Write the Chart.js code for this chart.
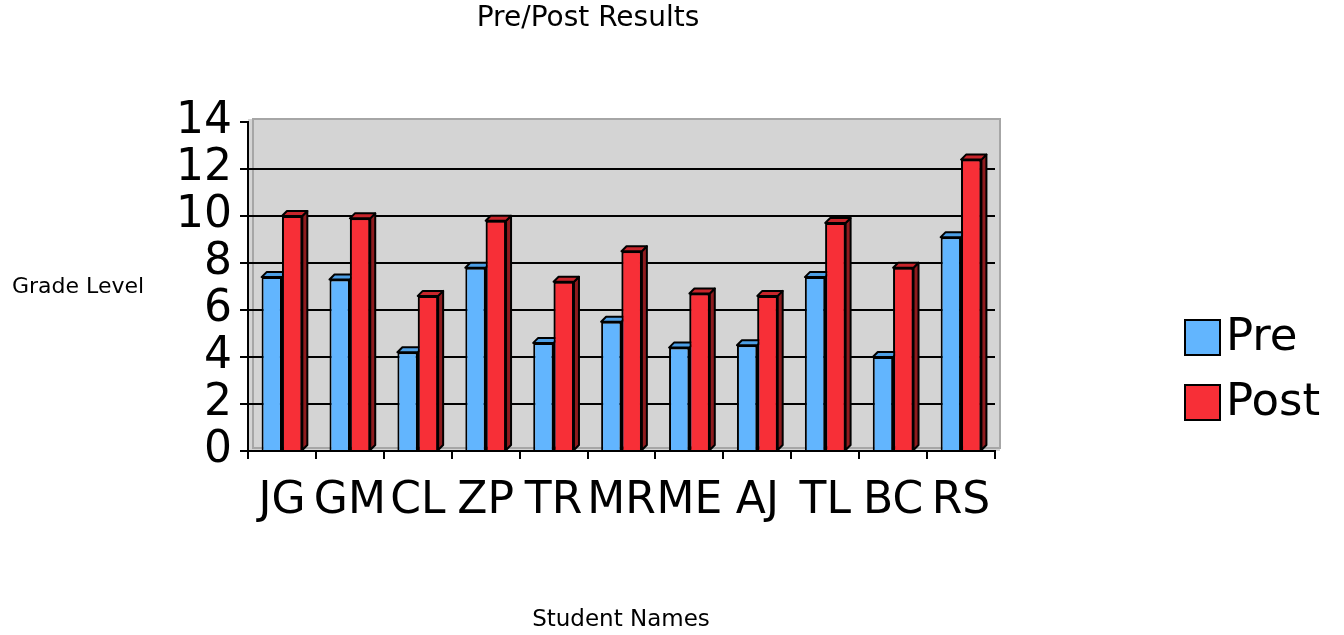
<!DOCTYPE html>
<html>
<head>
<meta charset="utf-8">
<script src="https://cdn.jsdelivr.net/npm/chart.js@4"></script>
<style>
  html, body { margin: 0; padding: 0; background: #fff; }
  #wrap { width: 1344px; height: 635px; }
</style>
</head>
<body>
<div id="wrap"><canvas id="grade-chart" width="1344" height="635"></canvas></div>
<script>
// values
const students = ['JG', 'GM', 'CL', 'ZP', 'TR', 'MR', 'ME', 'AJ', 'TL', 'BC', 'RS'];
const preScores = [7.4, 7.3, 4.2, 7.8, 4.6, 5.5, 4.4, 4.5, 7.4, 4.0, 9.1];
const postScores = [10.0, 9.9, 6.6, 9.8, 7.2, 8.5, 6.7, 6.6, 9.7, 7.8, 12.4];
const yTicks = [0, 2, 4, 6, 8, 10, 12, 14];

const FONT = '"DejaVu Sans", "Liberation Sans", sans-serif';
const DEPTH = 5;

// gray back wall behind the bars
const wallPlugin = {
  id: 'wall',
  beforeDraw(chart) {
    const { ctx, chartArea: a } = chart;
    ctx.save();
    ctx.fillStyle = '#d4d4d4';
    ctx.fillRect(a.left, a.top - 3, a.right - a.left + DEPTH, a.bottom - a.top + 3);
    ctx.strokeStyle = '#a6a6a6';
    ctx.lineWidth = 2;
    ctx.strokeRect(a.left + DEPTH, a.top - 3, a.right - a.left, a.bottom - a.top);
    ctx.restore();
  }
};

function drawFaces(ctx, bar, ds) {
  const p = bar.getProps(['x', 'y', 'base', 'width'], true);
  const l = p.x - p.width / 2, r = p.x + p.width / 2;
  // side
  ctx.beginPath();
  ctx.moveTo(r, p.y);
  ctx.lineTo(r + DEPTH, p.y - DEPTH);
  ctx.lineTo(r + DEPTH, p.base - DEPTH);
  ctx.lineTo(r, p.base);
  ctx.closePath();
  ctx.fillStyle = ds.sideColor;
  ctx.fill();
  ctx.stroke();
  // top
  ctx.beginPath();
  ctx.moveTo(l, p.y);
  ctx.lineTo(l + DEPTH, p.y - DEPTH);
  ctx.lineTo(r + DEPTH, p.y - DEPTH);
  ctx.lineTo(r, p.y);
  ctx.closePath();
  ctx.fillStyle = ds.topColor;
  ctx.fill();
  ctx.stroke();
}

// side and top faces so the bars look like the 3D original
// pre faces first, then post bar redrawn on top so it hides the pre side
const boxPlugin = {
  id: 'box3d',
  afterDatasetsDraw(chart) {
    const { ctx } = chart;
    const sets = chart.data.datasets;
    ctx.save();
    ctx.lineWidth = 2;
    ctx.strokeStyle = '#000';
    ctx.lineJoin = 'round';
    chart.getDatasetMeta(0).data.forEach(bar => drawFaces(ctx, bar, sets[0]));
    chart.getDatasetMeta(1).data.forEach(bar => {
      bar.draw(ctx);
      ctx.lineWidth = 2;
      ctx.strokeStyle = '#000';
      drawFaces(ctx, bar, sets[1]);
    });
    ctx.restore();
  }
};

// title, horizontal axis titles and legend placed like the original
const textPlugin = {
  id: 'texts',
  afterDraw(chart) {
    const { ctx } = chart;
    ctx.save();
    ctx.fillStyle = '#000';
    ctx.textBaseline = 'middle';
    ctx.textAlign = 'center';
    ctx.font = '28px ' + FONT;
    ctx.fillText('Pre/Post Results', 588, 19);
    ctx.font = '23px ' + FONT;
    ctx.fillText('Student Names', 621, 620);
    ctx.textAlign = 'left';
    ctx.font = '22px ' + FONT;
    ctx.fillText('Grade Level', 12, 287);

    ctx.font = '45px ' + FONT;
    chart.data.datasets.forEach((ds, i) => {
      const y = 338 + i * 65;
      ctx.fillStyle = ds.backgroundColor;
      ctx.fillRect(1185, y - 18, 35, 35);
      ctx.lineWidth = 2;
      ctx.strokeStyle = '#000';
      ctx.strokeRect(1185, y - 18, 35, 35);
      ctx.fillStyle = '#000';
      ctx.fillText(ds.label, 1226, y);
    });
    ctx.restore();
  }
};

const ctx = document.getElementById('grade-chart').getContext('2d');
new Chart(ctx, {
  type: 'bar',
  data: {
    labels: students,
    datasets: [
      {
        label: 'Pre',
        data: preScores,
        backgroundColor: '#62b5fe',
        sideColor: '#3f8fd6',
        topColor: '#4d9fe6',
        borderColor: '#000',
        borderWidth: 2
      },
      {
        label: 'Post',
        data: postScores,
        backgroundColor: '#f72f37',
        sideColor: '#8e1b1e',
        topColor: '#c8252b',
        borderColor: '#000',
        borderWidth: 2
      }
    ]
  },
  options: {
    responsive: false,
    animation: false,
    devicePixelRatio: 1,
    layout: { padding: { top: 122, right: 349, left: 0, bottom: 0 } },
    datasets: { bar: { barPercentage: 1.0, categoryPercentage: 0.6 } },
    plugins: {
      legend: { display: false },
      tooltip: { enabled: false }
    },
    scales: {
      x: {
        grid: { offset: true, drawOnChartArea: false, color: '#000', lineWidth: 2, tickLength: 8 },
        border: { color: '#000', width: 2 },
        ticks: { color: '#000', font: { family: FONT, size: 44 }, padding: 16, maxRotation: 0, autoSkip: false },
        afterFit(scale) { scale.height = 635 - 451; }
      },
      y: {
        min: 0,
        max: 14,
        afterBuildTicks(scale) { scale.ticks = yTicks.map(v => ({ value: v })); },
        grid: {
          color: c => (c.tick && c.tick.value === 14 ? 'rgba(0,0,0,0)' : '#000'),
          lineWidth: 2,
          tickLength: 8,
          tickColor: '#000'
        },
        border: { color: '#000', width: 2 },
        ticks: { color: '#000', font: { family: FONT, size: 44, lineHeight: 1 }, padding: 8, autoSkip: false },
        afterFit(scale) { scale.width = 248; }
      }
    }
  },
  plugins: [wallPlugin, boxPlugin, textPlugin]
});
</script>
</body>
</html>
